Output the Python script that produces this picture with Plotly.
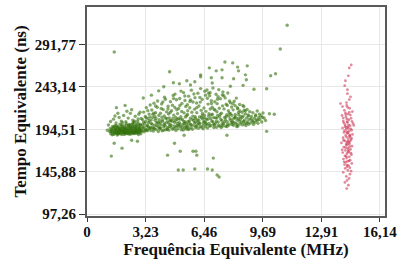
import plotly.graph_objects as go

# ---- data ----
green_x = [
 1.25,1.31,1.36,1.40,1.44,1.47,1.52,1.55,1.58,1.62,1.66,1.69,1.72,1.75,1.79,1.82,1.85,1.88,1.91,1.94,1.97,2.01,2.04,2.07,2.10,2.13,2.16,2.19,2.22,2.26,2.29,2.32,2.35,2.38,2.42,2.45,2.48,2.51,2.55,2.58,2.61,2.64,2.68,2.71,2.74,2.77,2.81,2.84,2.88,2.91,2.95,2.98,
 1.28,1.34,1.39,1.43,1.49,1.53,1.57,1.61,1.64,1.68,1.71,1.74,1.78,1.81,1.84,1.87,1.90,1.93,1.96,2.00,2.03,2.06,2.09,2.12,2.15,2.18,2.21,2.25,2.28,2.31,2.34,2.37,2.41,2.44,2.47,2.50,2.54,2.57,2.60,2.63,2.67,2.70,2.73,2.76,2.80,2.83,2.87,2.90,2.94,2.97,
 1.30,1.46,1.60,1.77,1.89,2.02,2.14,2.27,2.39,2.52,2.66,2.79,2.92,2.99,1.54,2.20,2.58,1.95,2.46,2.85,1.18,1.12,1.70,
 3.03,3.06,3.09,3.12,3.15,3.18,3.21,3.24,3.27,3.30,3.33,3.36,3.39,3.42,3.45,3.48,3.05,3.14,3.23,3.31,3.40,3.47,
 3.51,3.54,3.57,3.60,3.63,3.66,3.69,3.72,3.75,3.78,3.81,3.84,3.87,3.90,3.93,3.96,3.99,3.53,3.62,3.71,3.80,3.89,3.97,
 4.02,4.05,4.08,4.11,4.14,4.17,4.20,4.23,4.26,4.29,4.32,4.35,4.38,4.41,4.44,4.47,4.04,4.13,4.22,4.31,4.40,4.49,4.27,4.09,
 4.51,4.54,4.57,4.60,4.63,4.66,4.69,4.72,4.75,4.78,4.81,4.84,4.87,4.90,4.93,4.96,4.99,4.53,4.62,4.71,4.80,4.89,4.98,4.58,4.85,
 5.02,5.05,5.08,5.11,5.14,5.17,5.20,5.23,5.26,5.29,5.32,5.35,5.38,5.41,5.44,5.47,5.04,5.13,5.22,5.31,5.40,5.49,5.18,5.36,5.45,
 5.51,5.54,5.57,5.60,5.63,5.66,5.69,5.72,5.75,5.78,5.81,5.84,5.87,5.90,5.93,5.96,5.99,5.53,5.62,5.71,5.80,5.89,5.98,5.58,5.76,
 6.02,6.05,6.08,6.11,6.14,6.17,6.20,6.23,6.26,6.29,6.32,6.35,6.38,6.41,6.44,6.47,6.04,6.13,6.22,6.31,6.40,6.49,6.18,6.36,6.45,
 6.52,6.55,6.58,6.61,6.64,6.67,6.70,6.73,6.76,6.79,6.82,6.85,6.88,6.91,6.94,6.97,6.54,6.63,6.72,6.81,6.90,6.99,6.60,6.78,
 7.02,7.05,7.08,7.11,7.14,7.17,7.20,7.23,7.26,7.29,7.32,7.35,7.38,7.41,7.44,7.47,7.04,7.13,7.22,7.31,7.40,7.49,7.16,
 7.52,7.55,7.58,7.61,7.64,7.67,7.70,7.73,7.76,7.79,7.82,7.85,7.88,7.91,7.94,7.97,7.54,7.63,7.72,7.81,7.90,7.99,
 8.02,8.05,8.08,8.11,8.14,8.17,8.20,8.23,8.26,8.29,8.32,8.35,8.38,8.41,8.44,8.47,8.07,8.16,8.25,8.34,8.43,
 8.52,8.55,8.58,8.61,8.64,8.67,8.70,8.73,8.76,8.79,8.82,8.85,8.88,8.91,8.94,8.97,8.59,
 9.02,9.06,9.10,9.14,9.18,9.22,9.26,9.30,9.34,9.38,9.42,9.46,
 9.52,9.58,9.63,9.70,9.76,9.84,10.05,10.32,9.90,
 2.10,1.62,3.10,3.55,3.95,4.23,4.55,4.76,5.09,5.50,5.94,6.26,6.26,6.74,6.85,7.12,7.44,7.44,7.60,8.03,8.08,8.30,8.35,8.73,8.78,8.83,9.90,10.12,10.39,10.65,11.03,1.50,8.60,9.20,5.70,6.90,7.90,
 1.50,1.93,1.34,2.46,2.78,4.82,4.44,5.14,5.84,6.00,6.05,5.03,5.30,5.94,6.96,6.64,6.90,7.17,7.28,7.71,5.35,
]
green_y = [
 192.1,189.4,194.8,190.6,196.3,188.7,192.9,199.1,190.2,194.0,187.9,197.5,191.3,193.8,189.6,200.4,195.2,191.9,188.5,197.0,193.1,190.7,198.6,194.5,189.2,192.4,201.3,195.9,190.1,193.6,197.8,191.0,188.9,194.9,199.5,192.7,190.4,196.2,193.3,189.8,198.1,191.6,194.2,200.7,190.9,196.8,192.0,188.6,195.4,191.5,198.9,193.0,
 195.6,191.7,188.2,193.4,197.2,189.9,195.0,191.1,198.4,192.6,189.0,196.0,192.3,194.4,190.0,198.0,193.5,190.8,195.7,192.2,188.8,196.5,191.8,194.7,190.3,199.0,193.2,189.5,195.3,192.8,200.0,190.5,196.9,189.3,194.1,191.4,199.8,192.5,195.8,189.7,193.9,197.3,192.2,190.0,194.6,201.0,190.6,196.1,192.9,189.4,
 203.5,206.2,201.8,208.1,204.0,210.5,203.2,207.4,212.9,205.1,209.6,203.8,214.2,207.0,209.8,215.3,202.7,202.5,217.0,211.8,199.5,193.5,213.0,
 192.4,205.7,196.1,214.3,191.8,200.9,209.2,194.6,219.5,198.3,192.9,206.8,202.1,212.0,195.5,222.4,199.7,197.4,203.6,193.7,197.0,208.8,
 193.1,201.4,216.8,196.7,208.0,192.5,224.6,199.2,204.9,213.5,194.3,198.8,219.9,202.6,192.0,210.4,196.0,205.3,211.7,195.8,207.1,227.0,201.0,
 194.9,213.0,199.6,223.7,192.8,205.4,217.2,197.3,209.9,201.5,229.1,194.0,214.6,203.2,196.4,221.0,202.8,208.5,193.5,198.7,206.9,212.2,231.5,218.4,
 193.6,207.7,200.2,226.3,196.9,215.8,203.9,194.7,233.4,210.8,198.4,219.6,205.0,193.2,228.5,201.7,212.6,197.8,204.4,222.1,195.6,208.3,199.0,213.9,235.0,
 195.2,218.5,202.3,230.0,197.6,209.1,194.1,224.2,205.8,199.8,236.7,213.4,196.3,203.0,220.8,194.8,207.0,200.5,215.0,193.8,227.6,210.2,238.4,201.1,198.1,
 197.0,211.5,203.7,232.6,195.0,219.3,207.4,200.0,239.5,214.1,194.5,225.9,204.6,198.5,217.7,209.0,196.2,222.8,201.3,228.3,206.1,235.1,202.9,194.2,199.4,
 198.0,213.7,205.2,236.0,195.7,221.4,208.8,201.6,241.3,216.3,196.8,228.9,206.4,199.3,219.0,210.7,224.7,202.4,231.2,207.9,195.1,238.2,200.8,212.8,203.5,
 197.4,215.2,206.3,239.7,196.0,223.5,209.6,201.2,233.0,217.9,198.6,227.4,204.1,211.9,242.0,200.3,203.0,230.3,212.4,207.0,219.8,196.7,199.9,236.6,
 199.5,216.6,207.7,234.8,197.0,224.0,210.5,202.8,240.1,218.7,198.2,229.7,205.9,213.1,200.6,221.5,226.2,203.8,231.9,208.9,196.6,237.4,214.7,
 201.0,218.0,208.2,230.6,198.0,223.3,211.3,203.4,236.2,215.9,199.4,227.0,206.6,212.5,202.0,220.2,233.1,205.5,197.8,209.7,225.0,200.1,
 203.3,216.9,199.2,226.8,208.0,211.6,201.7,230.4,205.6,219.3,198.3,213.8,203.9,223.1,200.7,209.4,206.8,221.7,197.6,207.2,215.5,
 202.5,214.0,199.6,209.8,220.6,205.0,201.0,212.3,198.8,207.6,217.4,203.2,210.9,200.4,206.0,214.8,222.0,
 201.9,209.3,204.4,213.6,200.2,207.1,202.6,211.0,205.3,215.6,201.4,208.1,
 205.8,210.1,203.0,213.2,207.5,204.6,212.4,211.9,192.2,
 222.0,219.4,230.5,233.8,238.7,243.5,260.6,248.0,246.9,250.3,249.2,257.1,254.9,265.1,253.7,261.7,262.8,253.7,271.9,270.8,252.6,266.0,261.7,257.1,251.5,267.4,241.2,256.0,258.3,286.8,314.0,283.3,245.0,240.5,245.5,247.8,244.0,
 178.6,172.9,163.8,182.0,180.8,178.6,164.9,169.4,169.4,169.4,164.9,147.8,147.8,148.9,161.5,148.9,147.8,142.1,139.8,187.7,187.7,
]

# denser lower band of the wedge
green_band_x = [
 2.52,2.62,2.72,2.82,2.93, 3.02,3.11,3.19,3.26,3.34,3.43,3.50, 3.58,3.67,3.74,3.83,3.92,3.98,
 4.06,4.15,4.24,4.33,4.42,4.48, 4.56,4.64,4.73,4.82,4.91,4.97, 5.06,5.15,5.24,5.33,5.42,5.48,
 5.56,5.65,5.74,5.83,5.92,5.97, 6.07,6.16,6.25,6.34,6.43,6.48, 6.57,6.66,6.75,6.84,6.93,6.98,
 7.07,7.16,7.25,7.34,7.43,7.48, 7.57,7.66,7.75,7.84,7.93,7.98, 8.09,8.18,8.27,8.36,8.45,
 8.54,8.63,8.72,8.81,8.90, 9.04,9.16,9.28,9.40,9.50,9.66,
 3.35,3.78,4.18,4.46,4.77,5.12,5.39,5.67,5.95,6.24,6.53,6.86,7.19,7.46,7.73,8.04,8.31,8.66,4.95,6.05,7.00,5.55,3.68,6.70,
 1.33,1.41,1.50,1.59,1.67,1.76,1.86,1.92,2.05,2.11,2.24,2.30,2.40,2.49,2.56,2.65,2.75,2.86,1.56,1.73,2.08,2.36,2.69,2.89,
]
green_band_y = [
 201.5,203.9,199.0,206.5,200.2, 195.8,202.8,193.5,207.9,199.0,204.2,196.5, 200.3,195.2,209.4,202.0,197.6,205.6,
 196.1,203.7,199.8,207.4,194.6,201.9, 204.8,199.4,207.0,202.6,197.2,205.9, 199.1,206.2,196.9,203.5,208.6,200.9,
 198.0,204.1,196.5,209.7,201.8,206.9, 199.6,205.0,197.8,210.2,202.0,207.7, 200.8,206.0,198.4,211.0,203.4,208.0,
 201.3,207.4,199.2,211.9,204.4,198.4, 203.0,209.0,200.5,213.3,205.0,210.6, 202.4,208.8,200.0,211.4,205.8,
 208.0,203.5,215.5,201.6,209.9, 206.5,203.3,209.9,204.9,212.0,208.4,
 216.0,221.3,226.0,217.8,229.8,221.9,232.8,226.6,230.9,225.8,233.7,224.2,229.0,234.0,222.0,224.0,218.0,216.4,217.0,219.5,217.5,215.8,213.0,236.0,
 193.0,197.9,191.4,196.6,190.7,195.5,192.7,199.6,193.3,196.2,191.2,199.2,193.0,197.6,190.8,195.9,193.5,198.3,193.9,190.4,190.9,196.7,191.0,193.8,
]

red_x = [
 14.56,14.45,14.40,14.24,14.35,14.35,14.45,14.30,13.97,14.08,14.52,14.20,
 14.31,14.47,14.18,14.62,14.39,14.05,14.27,14.55,14.43,14.12,14.35,14.66,14.22,14.50,14.38,14.08,14.29,14.58,14.44,14.16,14.34,14.63,14.25,14.49,14.11,14.40,14.55,14.20,14.33,14.02,14.46,14.28,14.60,14.15,14.37,14.52,14.24,14.42,14.09,14.32,14.57,14.21,14.45,14.30,14.13,14.50,14.36,14.26,14.59,14.19,14.41,14.33,14.48,
 14.36,14.24,14.51,14.32,14.60,14.15,14.41,14.27,14.53,14.19,14.37,14.48,14.30,14.57,14.14,14.43,14.35,14.25,14.47,14.06,14.39,14.54,14.28,14.44,14.17,14.34,14.23,14.40,14.31,14.46,14.22,14.38,14.70,14.26,14.45,14.12,14.33,14.49,14.29,14.41,
 14.37,14.12,14.49,14.29,14.44,14.33,14.21,14.40,14.31,14.55,
]
red_y = [
 268.5,265.0,256.0,250.3,240.0,235.5,228.7,225.3,224.1,220.7,231.8,244.6,
 222.0,218.6,216.3,214.9,212.1,210.4,208.8,207.2,205.5,204.0,202.6,201.3,200.0,198.7,197.4,196.0,194.8,193.6,192.3,191.0,189.9,188.7,187.5,186.3,185.0,183.8,182.6,181.3,180.1,178.9,177.7,176.4,175.2,174.0,172.8,171.5,170.3,169.0,167.8,166.6,165.4,164.1,162.9,161.6,160.4,159.1,157.9,156.6,155.4,154.1,152.9,151.6,150.4,
 219.8,213.4,210.9,206.1,203.7,202.0,199.5,196.9,195.1,193.0,190.6,188.0,185.6,184.3,182.0,179.4,177.0,173.6,174.6,171.0,168.3,167.1,163.5,158.4,157.2,153.5,149.6,195.8,191.7,186.9,197.9,181.0,199.0,211.5,214.0,207.5,203.1,180.8,178.2,170.8,
 147.3,145.2,143.0,140.5,138.1,135.9,133.6,130.4,126.5,146.5,
]

x_ticks = [0, 3.23, 6.46, 9.69, 12.91, 16.14]
x_tick_text = ["0", "3,23", "6,46", "9,69", "12,91", "16,14"]
y_ticks = [97.26, 145.88, 194.51, 243.14, 291.77]
y_tick_text = ["97,26", "145,88", "194,51", "243,14", "291,77"]

FONT = "Liberation Serif"

fig = go.Figure()
fig.add_trace(go.Scatter(x=green_x + green_band_x, y=green_y + green_band_y, mode="markers",
                         marker=dict(size=3.4, color="rgba(50,112,8,0.6)",
                                     line=dict(width=0)),
                         showlegend=False, hoverinfo="skip"))
fig.add_trace(go.Scatter(x=red_x, y=red_y, mode="markers",
                         marker=dict(size=2.8, color="rgba(205,60,90,0.6)",
                                     line=dict(width=0)),
                         showlegend=False, hoverinfo="skip"))

axis_common = dict(showline=True, mirror=True, linecolor="#5a5a5a", linewidth=2,
                   showgrid=True, gridcolor="#e8e8e8", gridwidth=1,
                   ticks="outside", tickcolor="#3a3a3a", tickwidth=1,
                   zeroline=False, automargin=False,
                   tickfont=dict(family=FONT, size=15, color="#111111"))

fig.update_layout(
    width=413, height=265,
    margin=dict(l=87, r=28, t=7, b=49),
    paper_bgcolor="white", plot_bgcolor="white",
    font=dict(family=FONT),
    xaxis=dict(range=[0, 16.42], tickvals=x_ticks, ticklen=4, ticklabelstandoff=-3,
               ticktext=["<b>%s</b>" % t for t in x_tick_text],
               title=dict(text="<b>Frequência Equivalente (MHz)</b>", standoff=3,
                          font=dict(family=FONT, size=17, color="#111111")),
               **axis_common),
    yaxis=dict(range=[95, 335], tickvals=y_ticks, ticklen=6,
               ticktext=["<b>%s</b>" % t for t in y_tick_text],
               title=dict(text="<b>Tempo Equivalente (ns)</b>", standoff=4,
                          font=dict(family=FONT, size=17, color="#111111")),
               **axis_common),
)

fig.write_html("out.html", config={"displayModeBar": False},
               post_script="document.body.style.margin='0';document.body.style.padding='0';")
